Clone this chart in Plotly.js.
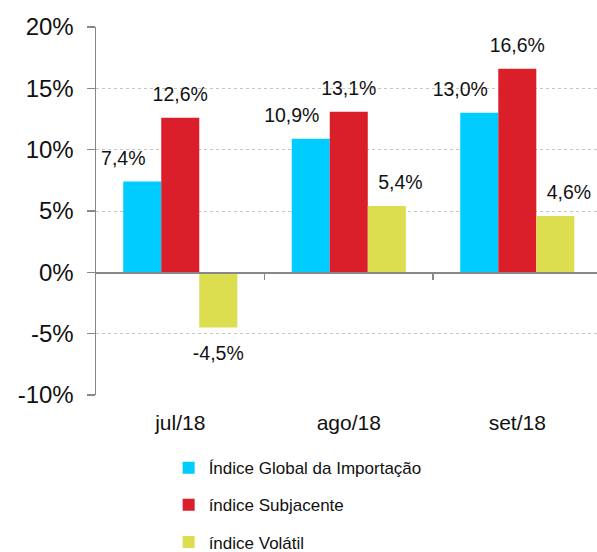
<!DOCTYPE html>
<html>
<head>
<meta charset="utf-8">
<script src="https://cdn.plot.ly/plotly-3.0.1.min.js"></script>
<style>html,body{margin:0;padding:0;background:#fff;}#chart{width:597px;height:552px;}</style>
</head>
<body>
<div id="chart"></div>
<script>
const categories = ["jul/18", "ago/18", "set/18"];
const seriesNames = ["Índice Global da Importação", "índice Subjacente", "índice Volátil"];
const globalValues = [7.4, 10.9, 13.0];
const subjacenteValues = [12.6, 13.1, 16.6];
const volatilValues = [-4.5, 5.4, 4.6];
const yTickVals = [-10, -5, 0, 5, 10, 15, 20];
const yTickText = ["-10%", "-5%", "0%", "5%", "10%", "15%", "20%"];
const colors = ["#00CCFF", "#DA1F2A", "#DDDD50"];

// label styling: font size and horizontal nudges (in non-breaking spaces) per series
const LABEL_PX = 19.5;
const NUDGE = [{ l: 0, r: 7 }, { l: 0, r: 0 }, { l: 5, r: 0 }];
const NBSP = '\u00A0';

function fmt(v) { return v.toFixed(1).replace('.', ',') + '%'; }
// label with an invisible spacer line between the label and the bar
function label(v, s) {
  const n = v >= 0 ? NUDGE[s] : { l: 0, r: 0 };
  const core = NBSP.repeat(n.l) + fmt(v) + NBSP.repeat(n.r);
  const big = '<span style="font-size:' + LABEL_PX + 'px">' + core + '</span>';
  const pad = '<span style="font-size:' + LABEL_PX + 'px">' + NBSP + '</span>';
  return v >= 0 ? big + '<br>' + NBSP : pad + '<br>' + big;
}

const allValues = [globalValues, subjacenteValues, volatilValues];
const traces = allValues.map((vals, i) => ({
  type: 'bar',
  x: categories,
  y: vals,
  name: seriesNames[i],
  legendgroup: 'g' + i,
  marker: { color: colors[i] },
  text: vals.map(v => label(v, i)),
  textposition: 'outside',
  constraintext: 'none',
  textfont: { family: 'Liberation Sans, Arial, sans-serif', size: 9, color: '#111' },
  cliponaxis: false,
  hoverinfo: 'none'
}));

// helper axis for the category boundary ticks on the zero line
traces.push({
  type: 'scatter', x: [0], y: [0], xaxis: 'x2', yaxis: 'y',
  mode: 'markers', marker: { opacity: 0 }, showlegend: false, hoverinfo: 'none'
});

const yMin = -10, yMax = 20;
const layout = {
  width: 597, height: 552,
  margin: { l: 96, r: 0, t: 27, b: 157, autoexpand: false },
  paper_bgcolor: '#fff', plot_bgcolor: '#fff',
  font: { family: 'Liberation Sans, Arial, sans-serif', color: '#111' },
  barmode: 'group',
  bargap: 0.323,
  bargroupgap: 0,
  showlegend: true,
  legend: {
    x: 0.145, xanchor: 'left', y: -0.15, yanchor: 'top',
    orientation: 'v', traceorder: 'grouped', tracegroupgap: 12,
    font: { size: 17, color: '#111' },
    itemwidth: 30
  },
  xaxis: {
    type: 'category',
    range: [-0.5, 2.473],
    showline: false, showgrid: false, zeroline: false,
    ticks: '', tickfont: { size: 21, color: '#111' },
    ticklabelstandoff: 13, automargin: false
  },
  xaxis2: {
    overlaying: 'x', anchor: 'free', position: (0 - yMin) / (yMax - yMin),
    range: [-0.5, 2.473],
    tickvals: [0.5, 1.5], ticks: 'outside', ticklen: 6, tickwidth: 1.5, tickcolor: '#888',
    showticklabels: false, showline: true, linecolor: '#888', linewidth: 1.5,
    showgrid: false, zeroline: false, automargin: false
  },
  yaxis: {
    range: [yMin, yMax],
    tickvals: yTickVals, ticktext: yTickText,
    ticks: 'outside', ticklen: 8, tickwidth: 1.5, tickcolor: '#888',
    showline: true, linecolor: '#888', linewidth: 1.5,
    showgrid: true, gridcolor: '#c4c4c4', griddash: 'dot', gridwidth: 1,
    zeroline: false,
    tickfont: { size: 24, color: '#111' },
    ticklabelstandoff: 8, automargin: false
  }
};

Plotly.newPlot('chart', traces, layout, { displayModeBar: false, staticPlot: true });
</script>
</body>
</html>
